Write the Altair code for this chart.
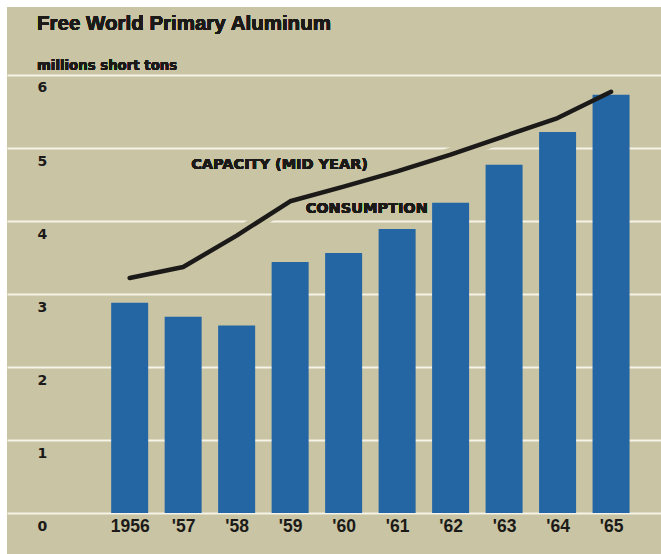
import json

import altair as alt
import pandas as pd

# Free World primary aluminum, millions of short tons
years = [1956, 1957, 1958, 1959, 1960, 1961, 1962, 1963, 1964, 1965]
year_labels = ["1956", "'57", "'58", "'59", "'60", "'61", "'62", "'63", "'64", "'65"]
consumption = [2.88, 2.69, 2.57, 3.44, 3.56, 3.89, 4.25, 4.77, 5.22, 5.73]
capacity = [3.22, 3.37, 3.80, 4.27, 4.47, 4.68, 4.91, 5.16, 5.41, 5.77]
y_ticks = [0, 1, 2, 3, 4, 5, 6]

BEIGE = "#c9c4a3"
BLUE = "#2466a3"
INK = "#1b1a18"
GRID = "#f6f4ea"

df = pd.DataFrame({"year": years, "consumption": consumption, "capacity": capacity})

x_scale = alt.Scale(domain=[1953.80, 1965.84], nice=False, zero=False)
y_scale = alt.Scale(domain=[-0.5616, 6.9315], nice=False, zero=False)

label_expr = json.dumps(year_labels) + "[datum.value - " + str(years[0]) + "]"

x_axis = alt.Axis(
    values=years,
    labelExpr=label_expr,
    title=None,
    domain=False,
    ticks=False,
    tickSize=0,
    grid=False,
    labelPadding=-28,
    labelBaseline="middle",
    labelFont="Liberation Sans",
    labelFontWeight="bold",
    labelFontSize=17.5,
    labelColor=INK,
)
y_axis = alt.Axis(
    values=y_ticks,
    format="d",
    title=None,
    domain=False,
    ticks=False,
    tickSize=0,
    grid=True,
    gridColor=GRID,
    gridWidth=2,
    gridOpacity=1,
    labelAlign="left",
    labelBaseline="middle",
    labelPadding=-30,
    labelOffset=13,
    labelFont="DejaVu Sans",
    labelFontWeight="bold",
    labelFontSize=14,
    labelColor=INK,
)


def xq(field="year"):
    return alt.X(f"{field}:Q", scale=x_scale, axis=x_axis)


def yq(field):
    return alt.Y(f"{field}:Q", scale=y_scale, axis=y_axis)


base = alt.Chart(df)

# beige halo under the capacity line breaks the gridlines where it crosses them
halo = base.mark_line(color=BEIGE, strokeWidth=14, strokeCap="round").encode(
    x=xq(), y=yq("capacity")
)

bars = base.mark_bar(size=37, color=BLUE).encode(
    x=xq(), y=yq("consumption"), y2=alt.datum(0)
)

line = base.mark_line(
    color=INK, strokeWidth=4.5, strokeCap="round", strokeJoin="round"
).encode(x=xq(), y=yq("capacity"))

label_style = dict(
    align="left", baseline="middle", font="DejaVu Sans", fontWeight="bold",
    fontSize=14.5, color=INK,
)
cap_label = alt.Chart(df).mark_text(text="CAPACITY (MID YEAR)", **label_style).encode(
    x=alt.datum(1957.15), y=alt.datum(4.77)
)
cons_label = alt.Chart(df).mark_text(text="CONSUMPTION", **label_style).encode(
    x=alt.datum(1959.29), y=alt.datum(4.16)
)

title = alt.Chart(df).mark_text(
    text="Free World Primary Aluminum", align="left", baseline="alphabetic",
    font="Liberation Sans", fontWeight="bold", fontSize=20.5, color=INK,
).encode(x=alt.value(30), y=alt.value(23))

subtitle = alt.Chart(df).mark_text(
    text="millions short tons", align="left", baseline="alphabetic",
    font="DejaVu Sans", fontWeight="bold", fontSize=13.3, color=INK,
).encode(x=alt.value(30), y=alt.value(63))

chart = (
    alt.layer(halo, bars, line, cap_label, cons_label, title, subtitle)
    .properties(
        width=654,
        height=547,
        autosize="none",
        padding={"left": 7, "top": 7, "right": 0, "bottom": 0},
        background="white",
    )
    .configure_view(fill=BEIGE, stroke=None)
)

chart.save("out.html", embed_options={"renderer": "svg", "actions": False})
